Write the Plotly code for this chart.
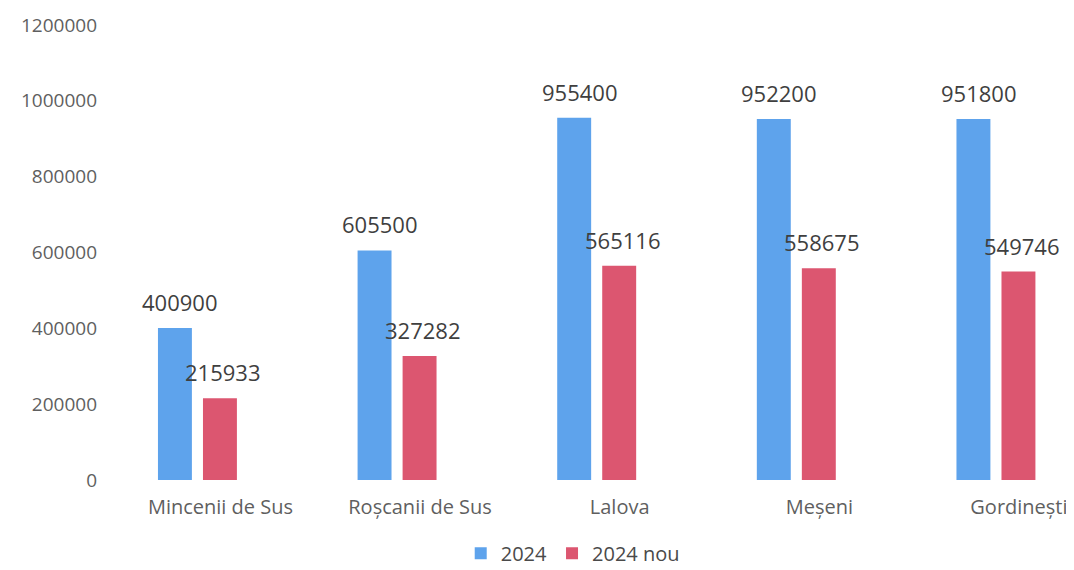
import plotly.graph_objects as go

categories = ["Mincenii de Sus", "Roșcanii de Sus", "Lalova", "Meșeni", "Gordinești"]
values_2024 = [400900, 605500, 955400, 952200, 951800]
values_2024_nou = [215933, 327282, 565116, 558675, 549746]
series_names = ["2024", "2024 nou"]
y_ticks = [0, 200000, 400000, 600000, 800000, 1000000, 1200000]

BLUE = "#5ea3ec"
RED = "#dc5670"
FONT = "Open Sans"
BARGAP = 0.549
GROUPGAP = 0.246

fig = go.Figure()
fig.add_trace(go.Bar(x=categories, y=values_2024, name=series_names[0],
                     marker=dict(color=BLUE, line=dict(width=0))))
fig.add_trace(go.Bar(x=categories, y=values_2024_nou, name=series_names[1],
                     marker=dict(color=RED, line=dict(width=0))))

off = (1 - BARGAP) / 4
annotations = []
for i, cat in enumerate(categories):
    for vals, sign, dx in ((values_2024, -1, 5), (values_2024_nou, 1, 3)):
        annotations.append(dict(
            x=i + sign * off, y=vals[i], xref="x", yref="y",
            text=str(vals[i]), showarrow=False, yanchor="bottom",
            xanchor="center", yshift=9, xshift=dx,
            font=dict(family=FONT, size=22, color="#3f3f3f")))

# page body adds an 8px offset, so the figure is sized/margined to compensate
fig.update_layout(
    width=1066, height=562,
    margin=dict(l=102, r=4, t=17, b=90, autoexpand=False),
    paper_bgcolor="white", plot_bgcolor="white",
    barmode="group", bargap=BARGAP, bargroupgap=GROUPGAP,
    font=dict(family=FONT, size=18, color="#5f5f5f"),
    showlegend=True,
    legend=dict(orientation="h", x=0.482, xanchor="center", y=-0.118, yanchor="top",
                font=dict(family=FONT, size=20, color="#4a4a4a"),
                itemwidth=30, traceorder="normal"),
    annotations=annotations,
)
fig.update_xaxes(range=[-0.438, 4.371], showgrid=False, showline=False, zeroline=False,
                 automargin=False,
                 ticks="", ticklabelshift=23, ticklabelstandoff=13,
                 tickfont=dict(family=FONT, size=20, color="#5f5f5f"))
fig.update_yaxes(range=[0, 1200000], tickvals=y_ticks, ticktext=[str(v) for v in y_ticks],
                 showgrid=False, showline=False, zeroline=False,
                 automargin=False,
                 ticks="", ticklabelstandoff=12,
                 tickfont=dict(family=FONT, size=19, color="#5f5f5f"))

fig.write_html("out.html")
